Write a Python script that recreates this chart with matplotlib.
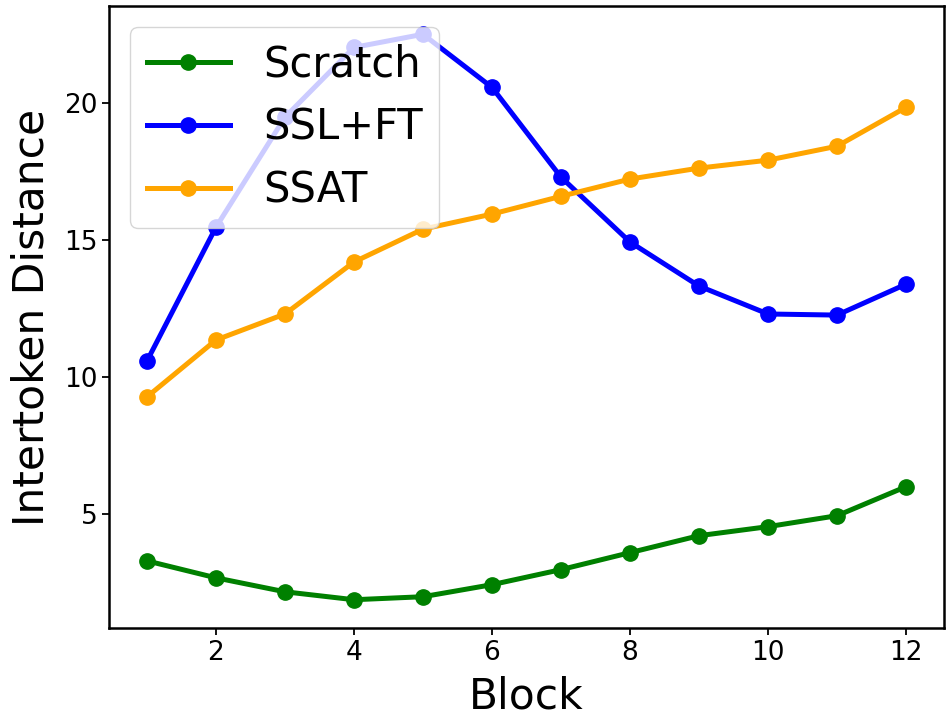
import matplotlib
matplotlib.use("Agg")
import matplotlib.pyplot as plt

blocks = [1, 2, 3, 4, 5, 6, 7, 8, 9, 10, 11, 12]
scratch = [3.28, 2.66, 2.15, 1.86, 1.97, 2.41, 2.96, 3.58, 4.20, 4.53, 4.93, 5.99]
ssl_ft = [10.58, 15.47, 19.49, 22.04, 22.52, 20.58, 17.30, 14.93, 13.32, 12.30, 12.26, 13.39]
ssat = [9.27, 11.35, 12.30, 14.20, 15.40, 15.95, 16.60, 17.23, 17.63, 17.92, 18.43, 19.85]

fig = plt.figure(figsize=(9.52, 7.18), dpi=100)
ax = fig.add_axes([109 / 952, 1 - 628 / 718, (944 - 109) / 952, (628 - 6) / 718])

kw = dict(marker="o", lw=3.6, ms=11)
ax.plot(blocks, scratch, color="green", label="Scratch", **kw)
ax.plot(blocks, ssl_ft, color="blue", label="SSL+FT", **kw)
ax.plot(blocks, ssat, color="orange", label="SSAT", **kw)

ax.set_xlabel("Block", fontsize=30.5, labelpad=7)
ax.set_ylabel("Intertoken Distance", fontsize=30.5, labelpad=8)
ax.tick_params(labelsize=19, width=1.3, length=5)
for s in ax.spines.values():
    s.set_linewidth(1.8)
ax.legend(loc="upper left", fontsize=30, borderaxespad=0.5)

fig.savefig("out.png", dpi=100)
